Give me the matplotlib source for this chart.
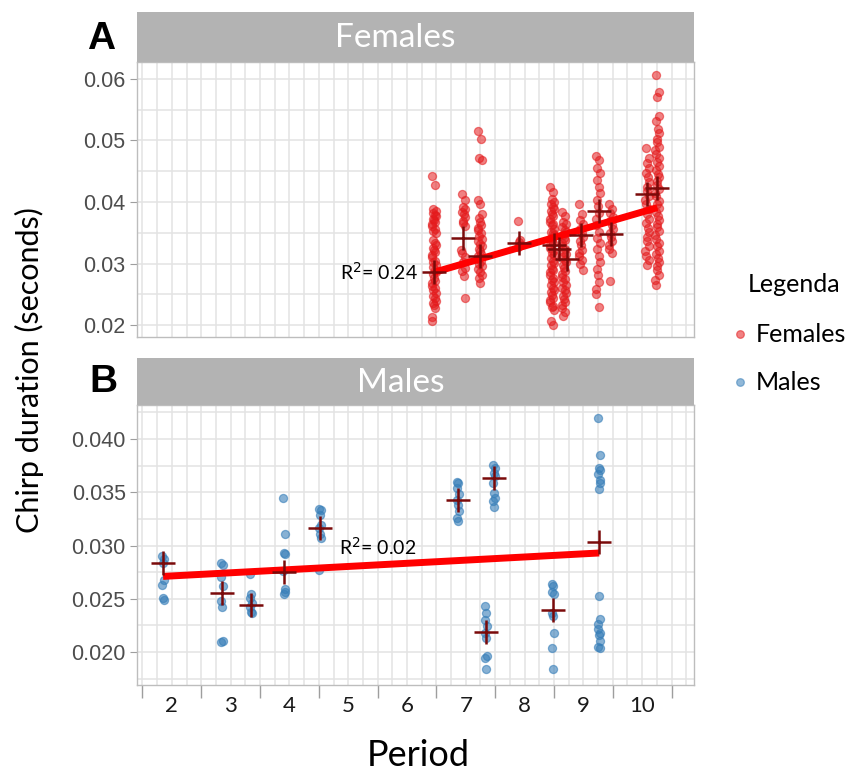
import numpy as np
import matplotlib
matplotlib.use("Agg")
import matplotlib.pyplot as plt
from matplotlib.lines import Line2D

# female clusters: period position -> chirp durations
fem_x = [6.46, 6.96, 7.24, 7.91, 8.47, 8.67, 8.96, 9.25, 9.47, 10.09, 10.26]
fem_y = [
    [0.0443, 0.0427, 0.0389, 0.0386, 0.0382, 0.0379, 0.0377, 0.0373, 0.0371, 0.0367, 0.0365,
     0.0361, 0.0356, 0.0353, 0.0349, 0.0338, 0.0334, 0.0331, 0.0326, 0.0322, 0.0319, 0.0314,
     0.0310, 0.0305, 0.0302, 0.0298, 0.0295, 0.0290, 0.0286, 0.0283, 0.0276, 0.0272, 0.0269,
     0.0264, 0.0260, 0.0257, 0.0252, 0.0248, 0.0245, 0.0240, 0.0236, 0.0233, 0.0228, 0.0213, 0.0207],
    [0.0413, 0.0404, 0.0392, 0.0388, 0.0384, 0.0380, 0.0376, 0.0370, 0.0366, 0.0361, 0.0322,
     0.0317, 0.0311, 0.0302, 0.0293, 0.0288, 0.0280, 0.0245],
    [0.0515, 0.0503, 0.0471, 0.0468, 0.0403, 0.0396, 0.0380, 0.0374, 0.0368, 0.0363, 0.0358,
     0.0354, 0.0349, 0.0345, 0.0340, 0.0336, 0.0332, 0.0328, 0.0324, 0.0320, 0.0316, 0.0312,
     0.0308, 0.0304, 0.0300, 0.0296, 0.0291, 0.0286, 0.0281, 0.0276, 0.0269],
    [0.0369, 0.0339, 0.0335, 0.0331, 0.0327],
    [0.0425, 0.0416, 0.0405, 0.0400, 0.0397, 0.0392, 0.0389, 0.0386, 0.0381, 0.0378, 0.0373,
     0.0368, 0.0365, 0.0362, 0.0357, 0.0352, 0.0349, 0.0346, 0.0341, 0.0336, 0.0333, 0.0330,
     0.0325, 0.0320, 0.0317, 0.0314, 0.0309, 0.0304, 0.0301, 0.0297, 0.0292, 0.0289, 0.0286,
     0.0281, 0.0276, 0.0273, 0.0270, 0.0265, 0.0260, 0.0257, 0.0254, 0.0249, 0.0244, 0.0241,
     0.0237, 0.0232, 0.0229, 0.0225, 0.0207, 0.0201],
    [0.0384, 0.0377, 0.0368, 0.0364, 0.0360, 0.0355, 0.0351, 0.0347, 0.0342, 0.0338, 0.0333,
     0.0329, 0.0324, 0.0319, 0.0315, 0.0311, 0.0306, 0.0302, 0.0297, 0.0293, 0.0288, 0.0284,
     0.0279, 0.0275, 0.0270, 0.0266, 0.0261, 0.0257, 0.0252, 0.0247, 0.0243, 0.0238, 0.0233,
     0.0228, 0.0222, 0.0215],
    [0.0396, 0.0381, 0.0371, 0.0364, 0.0356, 0.0349, 0.0344, 0.0337, 0.0330, 0.0322, 0.0317,
     0.0312, 0.0306, 0.0299, 0.0290],
    [0.0475, 0.0468, 0.0456, 0.0447, 0.0436, 0.0425, 0.0414, 0.0404, 0.0393, 0.0383, 0.0372,
     0.0362, 0.0351, 0.0341, 0.0333, 0.0323, 0.0313, 0.0302, 0.0291, 0.0281, 0.0270, 0.0259,
     0.0250, 0.0229],
    [0.0396, 0.0389, 0.0382, 0.0376, 0.0370, 0.0363, 0.0357, 0.0350, 0.0343, 0.0337, 0.0330,
     0.0323, 0.0317, 0.0272],
    [0.0488, 0.0472, 0.0463, 0.0455, 0.0447, 0.0440, 0.0432, 0.0425, 0.0418, 0.0410, 0.0403,
     0.0396, 0.0388, 0.0381, 0.0373, 0.0366, 0.0358, 0.0351, 0.0343, 0.0336, 0.0328, 0.0321,
     0.0313, 0.0306, 0.0298],
    [0.0606, 0.0579, 0.0571, 0.0539, 0.0531, 0.0518, 0.0512, 0.0503, 0.0497, 0.0490, 0.0484,
     0.0478, 0.0471, 0.0465, 0.0459, 0.0452, 0.0446, 0.0440, 0.0434, 0.0428, 0.0421, 0.0415,
     0.0409, 0.0402, 0.0396, 0.0390, 0.0384, 0.0378, 0.0371, 0.0365, 0.0359, 0.0353, 0.0346,
     0.0340, 0.0334, 0.0328, 0.0321, 0.0315, 0.0309, 0.0303, 0.0296, 0.0290, 0.0282, 0.0274, 0.0266],
]
fem_mean_x = [6.46, 6.96, 7.25, 7.90, 8.50, 8.58, 8.72, 8.96, 9.27, 9.47, 10.09, 10.26]
fem_mean_y = [0.0287, 0.0341, 0.0313, 0.0333, 0.0330, 0.0323, 0.0307, 0.0346, 0.0386, 0.0348, 0.0413, 0.0423]
fem_fit_x = [6.46, 10.26]
fem_fit_y = [0.0286, 0.0391]

male_x = [1.85, 2.85, 3.34, 3.91, 4.52, 6.86, 7.34, 7.48, 8.48, 9.27]
male_y = [
    [0.0290, 0.0287, 0.0284, 0.0268, 0.0263, 0.0251, 0.0249],
    [0.0284, 0.0282, 0.0270, 0.0262, 0.0248, 0.0242, 0.0210, 0.0209],
    [0.0273, 0.0254, 0.0251, 0.0246, 0.0242, 0.0238, 0.0237],
    [0.0345, 0.0311, 0.0293, 0.0292, 0.0276, 0.0259, 0.0256, 0.0254],
    [0.0334, 0.0333, 0.0329, 0.0319, 0.0316, 0.0311, 0.0307, 0.0277],
    [0.0360, 0.0359, 0.0354, 0.0348, 0.0343, 0.0338, 0.0332, 0.0326, 0.0323],
    [0.0243, 0.0237, 0.0230, 0.0224, 0.0218, 0.0213, 0.0196, 0.0194, 0.0184],
    [0.0376, 0.0373, 0.0368, 0.0365, 0.0359, 0.0349, 0.0345, 0.0342, 0.0336],
    [0.0264, 0.0262, 0.0256, 0.0254, 0.0237, 0.0234, 0.0218, 0.0204, 0.0184],
    [0.0420, 0.0385, 0.0373, 0.0371, 0.0367, 0.0362, 0.0359, 0.0353, 0.0253, 0.0231, 0.0226,
     0.0222, 0.0218, 0.0216, 0.0210, 0.0205, 0.0204],
]
male_mean_x = [1.85, 2.85, 3.34, 3.91, 4.52, 6.86, 7.34, 7.48, 8.48, 9.27]
male_mean_y = [0.0284, 0.0255, 0.0244, 0.0275, 0.0316, 0.0343, 0.0219, 0.0363, 0.0239, 0.0303]
male_fit_x = [1.85, 9.27]
male_fit_y = [0.0271, 0.0293]

periods = [2, 3, 4, 5, 6, 7, 8, 9, 10]
jitter = [-0.03, 0.02, -0.01, 0.035, -0.025, 0.01, 0.03, -0.015, 0.0, 0.02, -0.035]

RED = "#E41A1C"
BLUE = "#377EB8"
CROSS = "#7A0A0A"
CAL = "Lato"
ARIAL = "Liberation Sans"

fig = plt.figure(figsize=(8.5, 7.72), dpi=100)


def panel(rect, strip_rect, title, title_x, ylim, yticks, ylabels, yminor):
    ax = fig.add_axes(rect)
    ax.set_xlim(1.404, 10.89)
    ax.set_ylim(*ylim)
    ax.set_xticks(np.arange(1.5, 10.9, 0.25), minor=True)
    ax.set_yticks(yminor, minor=True)
    ax.set_yticks(yticks)
    ax.set_yticklabels(ylabels, fontsize=15.5, color="#4D4D4D", family=ARIAL)
    ax.grid(True, which="both", color="#E3E3E3", lw=1.1, zorder=0)
    ax.set_axisbelow(True)
    for s in ax.spines.values():
        s.set_color("#BDBDBD")
        s.set_linewidth(1.0)
    ax.tick_params(axis="y", which="major", length=5, color="#9E9E9E", pad=3)
    ax.tick_params(axis="y", which="minor", length=0)
    ax.tick_params(axis="x", which="both", length=0, labelbottom=False)
    st = fig.add_axes(strip_rect)
    st.set_facecolor("#B3B3B3")
    st.set_xticks([])
    st.set_yticks([])
    for s in st.spines.values():
        s.set_visible(False)
    st.text(title_x, 0.47, title, color="white", fontsize=24, family=CAL,
            ha="center", va="center", transform=st.transAxes)
    return ax


axA = panel([0.161, 0.5635, 0.656, 0.356], [0.161, 0.9197, 0.656, 0.0648], "Females", 0.463,
            (0.0181, 0.0627), [0.02, 0.03, 0.04, 0.05, 0.06],
            ["0.02", "0.03", "0.04", "0.05", "0.06"], np.arange(0.02, 0.0626, 0.005))
axB = panel([0.161, 0.1127, 0.656, 0.3627], [0.161, 0.4754, 0.656, 0.0609], "Males", 0.474,
            (0.0169, 0.0432), [0.020, 0.025, 0.030, 0.035, 0.040],
            ["0.020", "0.025", "0.030", "0.035", "0.040"], np.arange(0.0175, 0.043, 0.0025))

# points
for xc, ys in zip(fem_x, fem_y):
    xs = [xc + jitter[i % len(jitter)] for i in range(len(ys))]
    axA.scatter(xs, ys, s=34, color=RED, alpha=0.55, edgecolors=RED, linewidths=0.9, zorder=3)
for xc, ys in zip(male_x, male_y):
    xs = [xc + jitter[i % len(jitter)] * 0.6 for i in range(len(ys))]
    axB.scatter(xs, ys, s=34, color=BLUE, alpha=0.6, edgecolors=BLUE, linewidths=0.9, zorder=3)

# regression lines and means
axA.plot(fem_fit_x, fem_fit_y, color="#FF0000", lw=5, solid_capstyle="butt", zorder=4)
axB.plot(male_fit_x, male_fit_y, color="#FF0000", lw=5, solid_capstyle="butt", zorder=4)
axA.plot(fem_mean_x, fem_mean_y, ls="none", marker="+", ms=17, mew=1.8, color=CROSS, zorder=5)
axB.plot(male_mean_x, male_mean_y, ls="none", marker="+", ms=17, mew=1.8, color=CROSS, zorder=5)

axA.text(6.18, 0.0286, "R$^2$= 0.24", fontsize=14, family=CAL, ha="right", va="center", zorder=6)
axB.text(4.85, 0.0299, "R$^2$= 0.02", fontsize=14, family=CAL, ha="left", va="center", zorder=6)

# bottom axis: labels at periods, tick marks between
axB.set_xticks(periods)
axB.set_xticklabels([str(p) for p in periods], fontsize=16, family=CAL, color="#1A1A1A")
axB.tick_params(axis="x", which="major", length=0, labelbottom=True, pad=8)
sec = axB.secondary_xaxis("bottom")
sec.set_xticks(np.arange(1.5, 10.6, 1.0))
sec.set_xticklabels([])
sec.tick_params(axis="x", length=9, color="#9E9E9E", width=1.0)
sec.spines["bottom"].set_visible(False)

fig.text(0.1185, 0.949, "A", fontsize=28, fontweight="bold", family=ARIAL, ha="center", va="center")
fig.text(0.1215, 0.505, "B", fontsize=28, fontweight="bold", family=ARIAL, ha="center", va="center")
fig.text(0.035, 0.521, "Chirp duration (seconds)", rotation=90, fontsize=22, family=CAL,
         ha="center", va="center")
fig.text(0.492, 0.021, "Period", fontsize=26, family=CAL, ha="center", va="center")

# legend drawn by hand in figure pixels
fig.text(748 / 850, 1 - 285 / 772, "Legenda", fontsize=18, family=CAL, ha="left", va="center")
for lab, col, ypx in [("Females", RED, 334), ("Males", BLUE, 382)]:
    fig.add_artist(Line2D([740 / 850], [1 - ypx / 772], ls="none", marker="o", ms=5.5,
                          color=col, alpha=0.55, mew=0.9, transform=fig.transFigure))
    fig.text(756 / 850, 1 - ypx / 772, lab, fontsize=18, family=CAL, ha="left", va="center")

fig.savefig("out.png", dpi=100)
